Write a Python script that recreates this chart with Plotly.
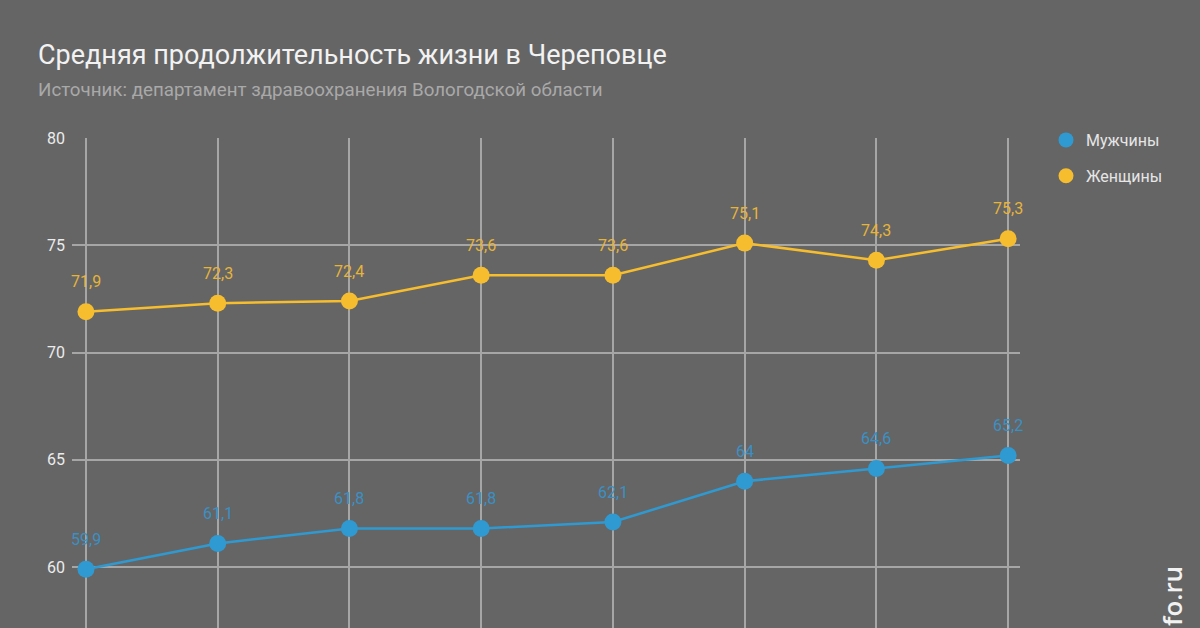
import plotly.graph_objects as go

periods = [0, 1, 2, 3, 4, 5, 6, 7]
men = [59.9, 61.1, 61.8, 61.8, 62.1, 64.0, 64.6, 65.2]
women = [71.9, 72.3, 72.4, 73.6, 73.6, 75.1, 74.3, 75.3]
y_ticks = [60, 65, 70, 75, 80]

BLUE = "#2f9ad1"
YELLOW = "#f6bd2e"
BG = "#656565"
GRID = "#a6a6a6"

def fmt(v):
    return ("%g" % v).replace(".", ",")

fig = go.Figure()
fig.add_trace(go.Scatter(x=periods, y=men, mode="lines+markers", name="Мужчины",
                         line=dict(color=BLUE, width=2.5), showlegend=False,
                         marker=dict(color=BLUE, size=17)))
fig.add_trace(go.Scatter(x=periods, y=women, mode="lines+markers", name="Женщины",
                         line=dict(color=YELLOW, width=2.5), showlegend=False,
                         marker=dict(color=YELLOW, size=17)))
# legend entries (markers only)
fig.add_trace(go.Scatter(x=[None], y=[None], mode="markers", name="Мужчины",
                         legendgroup="m", marker=dict(color=BLUE, size=15)))
fig.add_trace(go.Scatter(x=[None], y=[None], mode="markers", name="Женщины",
                         legendgroup="w", marker=dict(color=YELLOW, size=15)))

annotations = []
for xs, ys, col in [(periods, men, "#3a90c4"), (periods, women, "#e6b43a")]:
    for xv, yv in zip(xs, ys):
        annotations.append(dict(x=xv, y=yv, text=fmt(yv), showarrow=False,
                                yshift=30, font=dict(size=16, color=col, family="Roboto")))

annotations.append(dict(xref="paper", yref="paper", x=-36/948, y=(628-55)/490,
                        xanchor="left", yanchor="middle",
                        text="Средняя продолжительность жизни в Череповце", showarrow=False,
                        font=dict(size=27, color="#f2f2f2", family="Roboto")))
annotations.append(dict(xref="paper", yref="paper", x=-36/948, y=(628-90)/490,
                        xanchor="left", yanchor="middle",
                        text="Источник: департамент здравоохранения Вологодской области",
                        showarrow=False,
                        font=dict(size=18.75, color="#a9a9a9", family="Roboto")))
annotations.append(dict(xref="paper", yref="paper", x=(1172-72)/948, y=0, xanchor="center",
                        yanchor="bottom", text="fo.ru", textangle=-90, showarrow=False,
                        font=dict(size=26, color="#f2f2f2", family="Open Sans", weight=600)))

fig.update_layout(
    width=1200, height=628,
    paper_bgcolor=BG, plot_bgcolor=BG,
    margin=dict(l=72, r=180, t=138, b=0),
    showlegend=True,
    legend=dict(x=(1046-72)/948, y=(628-123)/490, xanchor="left", yanchor="top",
                font=dict(size=16, color="#e6e6e6", family="Roboto"),
                bgcolor="rgba(0,0,0,0)", itemsizing="trace", traceorder="grouped",
                tracegroupgap=12),
    annotations=annotations,
    xaxis=dict(range=[-0.106, 7.09], showgrid=True, gridcolor=GRID, gridwidth=1.5,
               tickvals=periods, showticklabels=False, zeroline=False, showline=False,
               fixedrange=True),
    yaxis=dict(range=[57.16, 80], tickvals=y_ticks, ticktext=[str(v) for v in y_ticks],
               showgrid=True, gridcolor=GRID, gridwidth=1.5, zeroline=False,
               tickfont=dict(size=16, color="#ececec", family="Roboto"),
               ticks="", ticklabelstandoff=6),
)

fig.write_html("out.html", config={"displayModeBar": False},
               post_script="document.body.style.margin='0';document.body.style.backgroundColor='%s';" % BG)
